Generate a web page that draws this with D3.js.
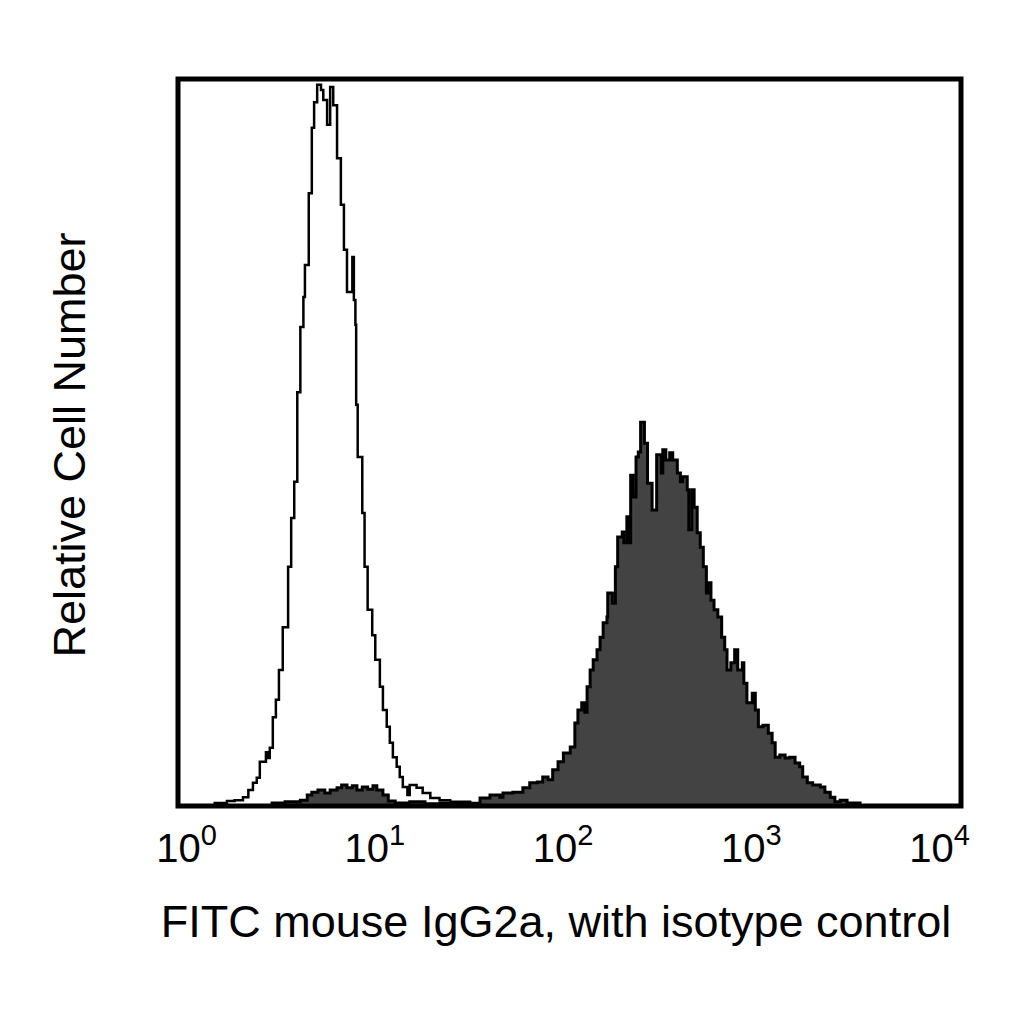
<!DOCTYPE html>
<html>
<head>
<meta charset="utf-8">
<script src="https://cdn.jsdelivr.net/npm/d3@7"></script>
<style>
  body { margin: 0; background: #fff; }
  svg { display: block; }
  text { font-family: "Liberation Sans", Arial, sans-serif; fill: #000; }
</style>
</head>
<body>
<div id="chart"></div>
<script>
// channel (0-1024, 256 per decade) and relative count (0-100 = top of frame)
const tickValues = [1, 10, 100, 1000, 10000];
const xTitle = "FITC mouse IgG2a, with isotype control";
const yTitle = "Relative Cell Number";

// isotype control, open histogram
const isotypeCh = [35, 48, 64, 74, 85, 92, 98, 103, 107, 115, 118, 120, 124, 128, 132, 137,
  144, 148, 152, 156, 160, 164, 166, 171, 175, 178, 182, 187, 190, 195, 199, 203, 208, 213,
  217, 221, 228, 230, 232, 233, 235, 241, 244, 248, 254, 258, 264, 268, 273, 277, 281, 286,
  290, 294, 300, 303, 312, 320, 330, 342, 356, 382, 395];
const isotypeCount = [0, 0.4, 0.7, 0.8, 1.2, 2.2, 3.2, 3.9, 6.1, 7.4, 6.6, 8.0, 12.2, 14.6, 18.7, 24.6,
  32.9, 39.6, 44.6, 56.9, 65.9, 70.0, 74.4, 84.3, 93.3, 96.8, 99.2, 98.5, 97.1, 93.7, 98.9, 96.4, 89.1, 82.7,
  76.5, 70.7, 75.5, 69.6, 66.2, 55.2, 48.0, 40.3, 32.9, 27.0, 23.5, 20.1, 16.4, 13.2, 10.9, 8.7, 6.7, 5.4,
  4.0, 2.6, 1.5, 2.9, 2.5, 1.8, 1.1, 0.8, 0.6, 0.4, 0];

// FITC stained, filled histogram
const stainedCh = [118, 123, 140, 160, 169, 175, 183, 192, 199, 208, 214, 221, 228, 234, 241, 248,
  255, 260, 268, 275, 284, 303, 323, 343, 362, 375, 382, 395, 408, 421, 425, 438, 451, 460, 470,
  477, 484, 490, 497, 504, 513, 519, 523, 528, 532, 535, 539, 543, 548, 552, 556, 561, 562, 568,
  572, 575, 581, 583, 587, 590, 592, 595, 599, 602, 605, 610, 614, 620, 626, 632, 634, 638, 643,
  647, 653, 657, 660, 666, 668, 672, 675, 679, 683, 687, 691, 693, 697, 701, 706, 711, 715, 718,
  723, 728, 732, 738, 740, 744, 751, 755, 759, 765, 772, 777, 781, 787, 794, 800, 807, 813, 817,
  823, 830, 840, 846, 853, 859, 866, 875, 883, 892];
const stainedCount = [0, 0.4, 0.6, 0.8, 1.5, 1.9, 2.2, 1.8, 2.2, 2.5, 2.9, 2.5, 2.8, 2.2, 2.6, 2.3,
  2.8, 2.2, 1.5, 0.7, 0.4, 0.6, 0.3, 0.4, 0.3, 0.4, 0.1, 1.1, 1.5, 1.2, 1.8, 1.9, 2.5, 3.2, 3.3,
  4.0, 3.6, 5.0, 6.1, 7.3, 8.1, 11.4, 13.2, 14.2, 12.9, 16.4, 18.7, 20.1, 21.5, 23.2, 25.2, 26.0, 29.3, 27.9,
  32.9, 37.0, 37.7, 36.2, 39.8, 36.2, 45.5, 42.5, 48.0, 48.7, 52.8, 49.9, 44.4, 40.7, 48.3, 45.8, 49.0, 47.6, 48.6,
  47.6, 45.8, 44.6, 45.3, 43.5, 38.0, 43.5, 41.1, 37.6, 35.6, 32.9, 29.3, 30.7, 28.3, 27.0, 26.0, 23.2, 21.5, 18.7,
  19.7, 21.5, 18.7, 19.7, 16.9, 14.2, 15.5, 13.2, 10.9, 11.1, 10.0, 8.7, 6.7, 7.0, 6.6, 6.7, 5.9, 5.4, 4.0,
  3.2, 2.9, 2.6, 1.9, 1.2, 0.6, 0.8, 0.4, 0.4, 0];

const width = 1024;
const height = 1024;
const margin = { top: 79, right: 63, bottom: 218, left: 178 };

const svg = d3
  .select("#chart")
  .append("svg")
  .attr("width", width)
  .attr("height", height)
  .attr("viewBox", [0, 0, width, height]);

const x = d3
  .scaleLog()
  .domain([1, 10000])
  .range([margin.left, width - margin.right]);
// the printed exponents sit a little inside the decade marks
const xLabels = d3.scaleLog().domain([1, 10000]).range([186, 939]);
const y = d3
  .scaleLinear()
  .domain([0, 100])
  .range([height - margin.bottom, margin.top]);

const chToValue = (ch) => Math.pow(10, ch / 256);
const toPoints = (chs, counts) => chs.map((ch, i) => [chToValue(ch), counts[i]]);

const area = d3
  .area()
  .curve(d3.curveStepAfter)
  .x((d) => x(d[0]))
  .y0(y(0))
  .y1((d) => y(d[1]));
const line = d3
  .line()
  .curve(d3.curveStepAfter)
  .x((d) => x(d[0]))
  .y((d) => y(d[1]));

const stained = toPoints(stainedCh, stainedCount);
const isotype = toPoints(isotypeCh, isotypeCount);

svg.append("path").attr("d", area(stained)).attr("fill", "#434343");
svg
  .append("path")
  .attr("d", line(stained))
  .attr("fill", "none")
  .attr("stroke", "#000")
  .attr("stroke-width", 3);
svg
  .append("path")
  .attr("d", line(isotype))
  .attr("fill", "none")
  .attr("stroke", "#000")
  .attr("stroke-width", 2.5);

// frame
svg
  .append("rect")
  .attr("x", margin.left)
  .attr("y", margin.top)
  .attr("width", width - margin.left - margin.right)
  .attr("height", height - margin.top - margin.bottom)
  .attr("fill", "none")
  .attr("stroke", "#000")
  .attr("stroke-width", 5);

// tick labels 10^n
const xAxis = d3
  .axisBottom(xLabels)
  .tickValues(tickValues)
  .tickSize(0)
  .tickFormat("");
const axisG = svg
  .append("g")
  .attr("transform", `translate(0,${height - margin.bottom})`)
  .call(xAxis);
axisG.select(".domain").remove();
axisG
  .selectAll(".tick text")
  .attr("y", 56)
  .attr("dy", 0)
  .attr("font-size", 40)
  .attr("font-family", "Liberation Sans, Arial, sans-serif")
  .attr("fill", "#000")
  .each(function (d) {
    const t = d3.select(this);
    t.append("tspan").text("10");
    t.append("tspan")
      .attr("dy", -17)
      .attr("font-size", 29)
      .text(Math.round(Math.log10(d)));
  });

// axis titles
svg
  .append("text")
  .attr("x", 556)
  .attr("y", 937)
  .attr("text-anchor", "middle")
  .attr("font-size", 45)
  .text(xTitle);

svg
  .append("text")
  .attr("transform", "translate(85,445) rotate(-90)")
  .attr("text-anchor", "middle")
  .attr("font-size", 45)
  .text(yTitle);
</script>
</body>
</html>
